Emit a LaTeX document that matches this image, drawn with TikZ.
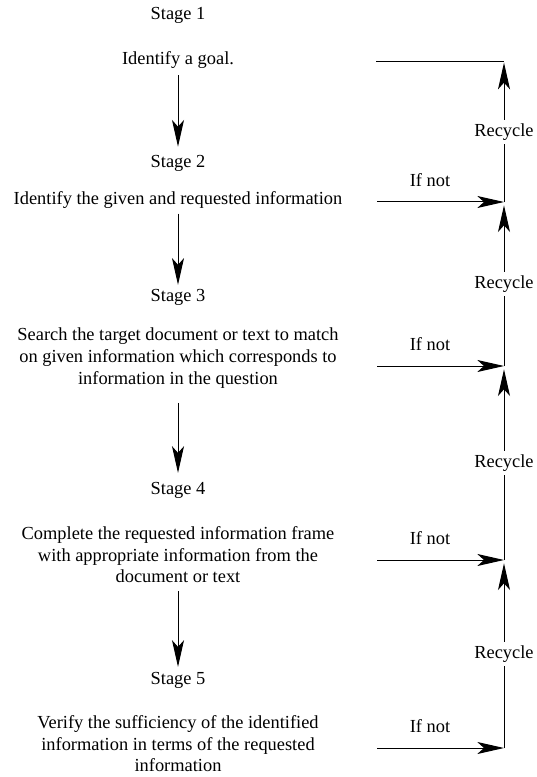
\documentclass[tikz,border=0pt]{standalone}
\usepackage{fontspec}
\setmainfont{Liberation Serif}
\usetikzlibrary{arrows.meta}
\begin{document}
\begin{tikzpicture}[x=0.75pt,y=-0.75pt,
  txt/.style={align=center, inner sep=0pt, font=\fontsize{13.8}{16.2}\selectfont},
  lbl/.style={inner xsep=1pt, inner ysep=3pt, fill=white, font=\fontsize{13.8}{16.2}\selectfont},
  ln/.style={line width=0.75pt},
  arr/.style={ln, -{Stealth[length=20pt,width=9pt,inset=5pt]}}]
\useasboundingbox (0,0) rectangle (536,777);
% main column
\node[txt] (s1) at (178,15) {Stage 1};
\node[txt] (t1) at (178,60) {Identify a goal.};
\node[txt] (s2) at (178,163) {Stage 2};
\node[txt] (t2) at (178,200) {Identify the given and requested information};
\node[txt] (s3) at (178,297) {Stage 3};
\node[txt] (t3) at (178,358) {Search the target document or text to match\\on given information which corresponds to\\information in the question};
\node[txt] (s4) at (178,490) {Stage 4};
\node[txt] (t4) at (178,555) {Complete the requested information frame\\with appropriate information from the\\document or text};
\node[txt] (s5) at (178,680) {Stage 5};
\node[txt] (t5) at (178,744) {Verify the sufficiency of the identified\\information in terms of the requested\\information};
\draw[arr, shorten <=5pt, shorten >=6pt] (t1) -- (s2);
\draw[arr, shorten <=3.6pt, shorten >=2.9pt] (t2) -- (s3);
\draw[arr, shorten <=11pt, shorten >=6.6pt] (t3) -- (s4);
\draw[arr, shorten <=6pt, shorten >=3.6pt] (t4) -- (s5);
% right side
\coordinate (h0) at (376,62);
\coordinate (j0) at (504,62);
\coordinate (h1) at (377,202);
\coordinate (j1) at (504,202);
\coordinate (h2) at (377,366);
\coordinate (j2) at (504,366);
\coordinate (h3) at (377,560);
\coordinate (j3) at (504,560);
\coordinate (h4) at (377,748);
\coordinate (j4) at (504,748);
\draw[ln] (h0) -- (j0);
\draw[arr] (h1) -- (j1);
\draw[arr] (h2) -- (j2);
\draw[arr] (h3) -- (j3);
\draw[arr] (h4) -- (j4);
\node[txt] (n1) at (430,180) {If not};
\node[txt] (n2) at (430,344) {If not};
\node[txt] (n3) at (430,538) {If not};
\node[txt] (n4) at (430,726) {If not};
\draw[arr, shorten >=0.5pt] (j1) -- node[lbl] (r1) {Recycle} (j0);
\draw[arr, shorten >=2.5pt] (j2) -- node[lbl] (r2) {Recycle} (j1);
\draw[arr, shorten >=2.5pt] (j3) -- node[lbl] (r3) {Recycle} (j2);
\draw[arr, shorten >=2.5pt] (j4) -- node[lbl] (r4) {Recycle} (j3);
\end{tikzpicture}
\end{document}
